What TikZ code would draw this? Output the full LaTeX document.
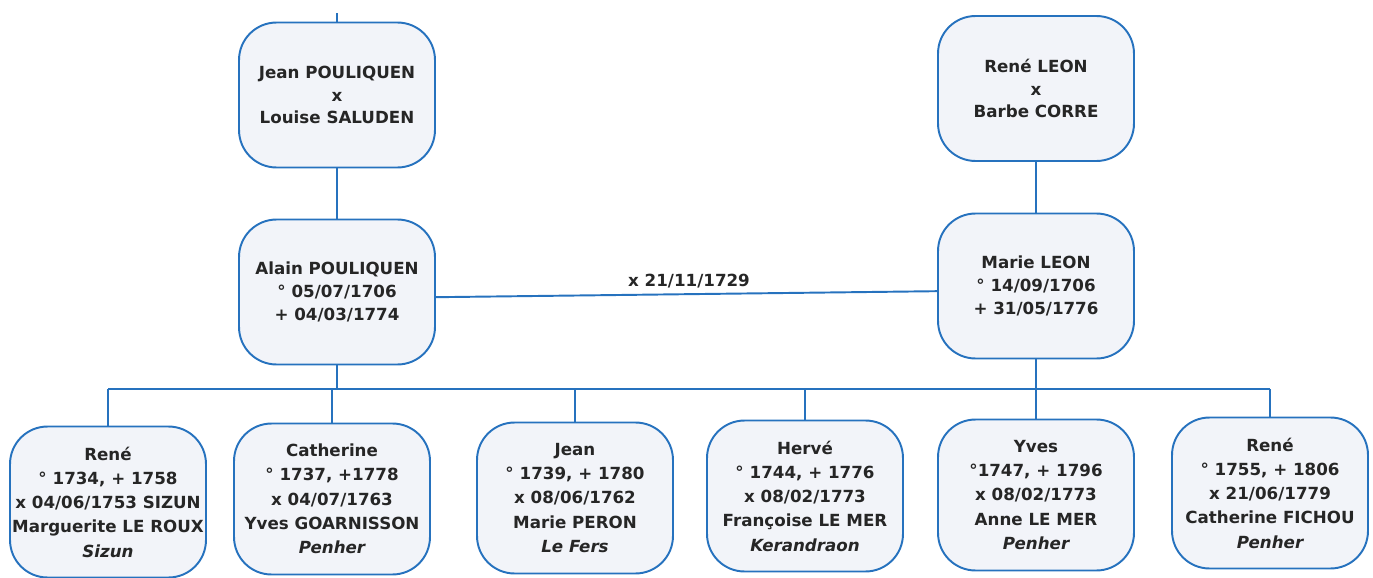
\documentclass[tikz,border=0pt]{standalone}
\usepackage{fontspec}
\setmainfont{DejaVu Sans}
\usetikzlibrary{backgrounds}

\definecolor{boxblue}{RGB}{38,114,190}
\definecolor{boxfill}{RGB}{242,244,249}
\definecolor{boxtext}{RGB}{38,38,38}

\begin{document}
\begin{tikzpicture}[x=0.02cm,y=-0.02cm,
  person/.style={draw=boxblue,fill=boxfill,text=boxtext,line width=1.1pt,
    rounded corners=0.75cm,minimum width=3.92cm,minimum height=2.9cm,
    align=center,inner sep=1pt,font=\bfseries\fontsize{9.5}{13}\selectfont},
  kid/.style={person,minimum height=3.02cm,font=\bfseries\fontsize{9.5}{13.8}\selectfont},
  link/.style={draw=boxblue,line width=1.1pt}]

  \useasboundingbox (0,0) rectangle (1373,578);

  % Parents of both spouses

  \node [person] at (337,95) (jean) {Jean POULIQUEN\\x\\Louise SALUDEN};
  \node [person] at (1036,88.5) (reneleon) {René LEON\\x\\Barbe CORRE};

  % The couple

  \node [person] at (337,292) (alain) {Alain POULIQUEN\\° 05/07/1706\\+ 04/03/1774};
  \node [person] at (1036,286) (marie) {Marie LEON\\° 14/09/1706\\+ 31/05/1776};
  \node [text=boxtext,font=\bfseries\fontsize{9.5}{12}\selectfont] at (689,281) (wedding) {x 21/11/1729};

  % Their children

  \node [kid] at (108,502) (rene) {René\\° 1734, + 1758\\x 04/06/1753 SIZUN\\Marguerite LE ROUX\\{\itshape Sizun}};
  \node [kid] at (332,499) (catherine) {Catherine\\° 1737, +1778\\x 04/07/1763\\Yves GOARNISSON\\{\itshape Penher}};
  \node [kid] at (575,498) (jeanjr) {Jean\\° 1739, + 1780\\x 08/06/1762\\Marie PERON\\{\itshape Le Fers}};
  \node [kid] at (805,496) (herve) {Hervé\\° 1744, + 1776\\x 08/02/1773\\Françoise LE MER\\{\itshape Kerandraon}};
  \node [kid] at (1036,495) (yves) {Yves\\°1747, + 1796\\x 08/02/1773\\Anne LE MER\\{\itshape Penher}};
  \node [kid] at (1270,493) (renejr) {René\\° 1755, + 1806\\x 21/06/1779\\Catherine FICHOU\\{\itshape Penher}};

  \coordinate (top) at (337,13);
  \coordinate (bar) at (0,389);

  \begin{pgfonlayer}{background}
    \draw [link] (top) -- (jean.north);
    \draw [link] (jean.south) -- (alain.north);
    \draw [link] (reneleon.south) -- (marie.north);
    \draw [link] (alain.-3) -- (marie.183);
    \draw [link] (alain.south) -- (alain.south |- bar);
    \draw [link] (marie.south) -- (marie.south |- bar);
    \draw [link] (rene.north |- bar) -- (renejr.north |- bar);
    \foreach \k in {rene,catherine,jeanjr,herve,yves,renejr}
      \draw [link] (\k.north) -- (\k.north |- bar);
  \end{pgfonlayer}

\end{tikzpicture}
\end{document}
